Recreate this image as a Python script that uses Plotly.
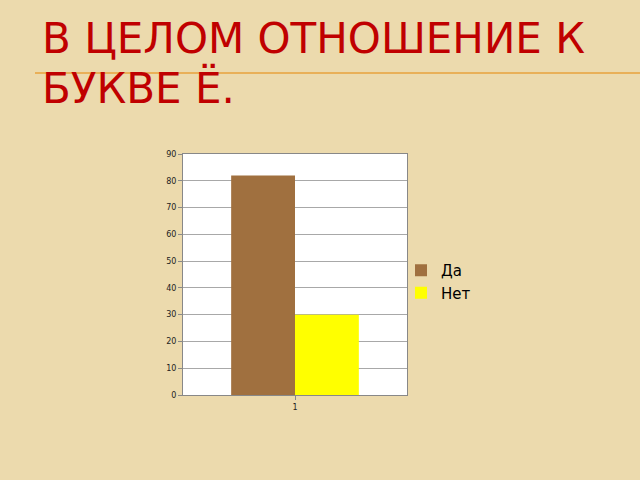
import plotly.graph_objects as go

categories = ["1"]
series_names = ["Да", "Нет"]
series_values = [[82], [30]]
series_colors = ["#A0703F", "#FFFF00"]
y_ticks = [0, 10, 20, 30, 40, 50, 60, 70, 80, 90]
title_lines = ["В ЦЕЛОМ ОТНОШЕНИЕ К", "БУКВЕ Ё."]

W, H = 640, 480
fig = go.Figure()
for name, vals, col in zip(series_names, series_values, series_colors):
    fig.add_trace(go.Bar(x=categories, y=vals, name=name, marker=dict(color=col, line=dict(width=0))))

fig.update_layout(
    width=W, height=H,
    margin=dict(l=0, r=0, t=0, b=0, autoexpand=False),
    paper_bgcolor="#ECDAAD",
    plot_bgcolor="#FFFFFF",
    barmode="group",
    bargap=0.43,
    bargroupgap=0,
    font=dict(family="DejaVu Sans", color="#222222"),
    showlegend=True,
    legend=dict(x=401 / W, y=1 - 254 / H, xanchor="left", yanchor="top",
                font=dict(size=15, color="#000000"), bgcolor="rgba(0,0,0,0)",
                tracegroupgap=0, itemwidth=30),
    xaxis=dict(domain=[183 / W, 407 / W], type="category", automargin=False,
               showline=True, linecolor="#888888", linewidth=1, mirror=True,
               ticks="outside", ticklen=4, tickcolor="#888888",
               tickfont=dict(size=8, color="#222222"), showgrid=False),
    yaxis=dict(domain=[1 - 395 / H, 1 - 154 / H], range=[0, 90], automargin=False,
               tickvals=y_ticks, showline=True, linecolor="#888888", linewidth=1, mirror=True,
               ticks="outside", ticklen=4, tickcolor="#888888",
               tickfont=dict(size=8, color="#222222"),
               showgrid=True, gridcolor="#A8A8A8", gridwidth=1, zeroline=False),
)

fig.add_annotation(text=title_lines[0], xref="paper", yref="paper", x=40 / W, y=1 - 65 / H,
                   xanchor="left", yanchor="bottom", showarrow=False,
                   font=dict(family="DejaVu Sans", size=42, color="#C00000"))
fig.add_annotation(text=title_lines[1], xref="paper", yref="paper", x=40 / W, y=1 - 115 / H,
                   xanchor="left", yanchor="bottom", showarrow=False,
                   font=dict(family="DejaVu Sans", size=42, color="#C00000"))
fig.add_shape(type="line", xref="paper", yref="paper", x0=35 / W, x1=1, y0=1 - 73 / H, y1=1 - 73 / H,
              line=dict(color="#E8A23C", width=1.5))

fig.write_html("out.html", config={"displayModeBar": False},
               post_script="document.body.style.margin='0';")
